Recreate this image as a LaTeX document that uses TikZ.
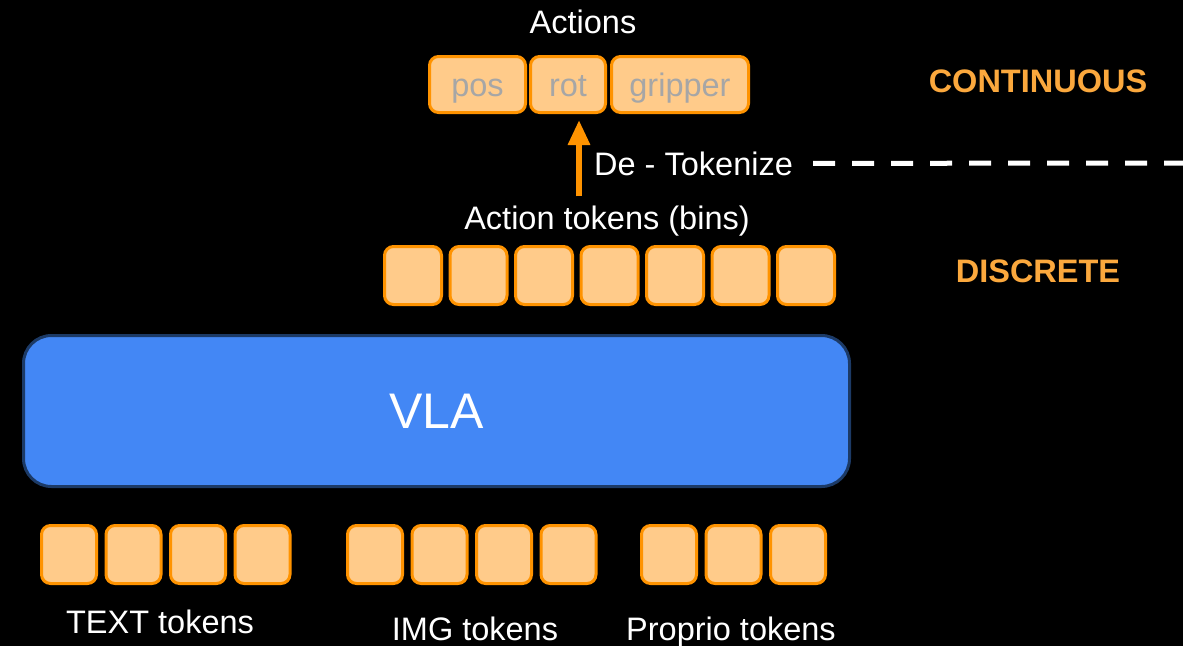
\documentclass[tikz,border=0pt]{standalone}
\usepackage{fontspec}
\setmainfont{Liberation Sans}
\usetikzlibrary{positioning, arrows.meta}
\definecolor{tokfill}{HTML}{FFCB8A}
\definecolor{tokdraw}{HTML}{FF9300}
\definecolor{vlafill}{HTML}{4387F5}
\definecolor{vladraw}{HTML}{1C3A66}
\definecolor{regime}{HTML}{FBA83D}
\definecolor{actgray}{HTML}{A6A6A6}
\tikzset{
  txt/.style={text=white, font=\fontsize{32.5}{39}\selectfont, anchor=base, inner sep=0pt},
  tok/.style={draw=tokdraw, fill=tokfill, line width=3pt, rounded corners=9pt,
    minimum width=55pt, minimum height=58pt, inner sep=0pt},
  bintok/.style={tok, minimum width=57pt},
  act/.style={tok, minimum height=56pt, text=actgray, text height=23pt, text depth=0pt,
    font=\fontsize{32.5}{39}\selectfont},
  regimelbl/.style={txt, text=regime, font=\bfseries\fontsize{32.5}{39}\selectfont},
  lift/.style={tokdraw, line width=6pt, -{Triangle[width=21pt, length=25pt]}}
}
\begin{document}
\begin{tikzpicture}[x=1pt, y=-1pt]
\useasboundingbox (0,0) rectangle (1183,646);
\fill[black] (0,0) rectangle (1183,646);

\node[txt] (actions) at (583,33) {Actions};
\node[act, minimum width=96pt] (pos) at (477.5,84.5) {pos};
\node[act, minimum width=75pt, right=2pt of pos] (rot) {rot};
\node[act, minimum width=137pt, right=3pt of rot] (grip) {gripper};
\node[regimelbl] (cont) at (1038,92) {CONTINUOUS};

\node[txt, anchor=base west] (detok) at (594,175) {De - Tokenize};
\node[txt] (bins) at (607,229) {Action tokens (bins)};
\coordinate (liftx) at ([xshift=11pt]rot.south);
\draw[lift, shorten <=9pt, shorten >=6pt] (liftx |- bins.north) -- (liftx);
\coordinate (rim) at (1183,163);
\draw[white, line width=5pt, dash pattern=on 22pt off 17pt] ([xshift=20pt]detok.east) -- (rim);

\node[bintok] (at1) at (413,275.5) {};
\node[bintok, right=5.5pt of at1] (at2) {};
\node[bintok, right=5.5pt of at2] (at3) {};
\node[bintok, right=5.5pt of at3] (at4) {};
\node[bintok, right=5.5pt of at4] (at5) {};
\node[bintok, right=5.5pt of at5] (at6) {};
\node[bintok, right=5.5pt of at6] (at7) {};
\node[regimelbl] (disc) at (1038,282) {DISCRETE};

\node[draw=vladraw, fill=vlafill, line width=3pt, rounded corners=28pt,
  minimum width=826pt, minimum height=151pt, text=white,
  font=\fontsize{50}{60}\selectfont] (vla) at (436.5,411) {VLA};

\node[tok] (tt1) at (69,554.5) {};
\node[tok, right=6.5pt of tt1] (tt2) {};
\node[tok, right=6.5pt of tt2] (tt3) {};
\node[tok, right=6.5pt of tt3] (tt4) {};
\node[txt] (textlbl) at (160,633) {TEXT tokens};

\node[tok] (it1) at (375,554.5) {};
\node[tok, right=6.5pt of it1] (it2) {};
\node[tok, right=6.5pt of it2] (it3) {};
\node[tok, right=6.5pt of it3] (it4) {};
\node[txt] (imglbl) at (475,640) {IMG tokens};

\node[tok] (pt1) at (669,554.5) {};
\node[tok, right=6.5pt of pt1] (pt2) {};
\node[tok, right=6.5pt of pt2] (pt3) {};
\node[txt] (proplbl) at (731,640) {Proprio tokens};

\end{tikzpicture}
\end{document}
